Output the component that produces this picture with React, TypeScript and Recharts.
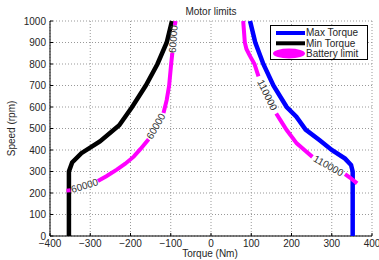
import { ScatterChart, Scatter, XAxis, YAxis, CartesianGrid, ReferenceDot } from "recharts";

const TORQUE_TICKS = [-400, -300, -200, -100, 0, 100, 200, 300, 400];
const SPEED_TICKS = [0, 100, 200, 300, 400, 500, 600, 700, 800, 900, 1000];

// torque (Nm) vs speed (rpm)
const maxTorque = [
  { t: 352, s: 0 }, { t: 352, s: 300 }, { t: 348, s: 330 }, { t: 333, s: 360 },
  { t: 300, s: 400 }, { t: 270, s: 445 }, { t: 235, s: 495 }, { t: 212, s: 555 },
  { t: 188, s: 600 }, { t: 155, s: 700 }, { t: 130, s: 800 }, { t: 110, s: 900 },
  { t: 97, s: 1000 },
];

const minTorque = [
  { t: -353, s: 0 }, { t: -353, s: 300 }, { t: -345, s: 342 }, { t: -322, s: 385 },
  { t: -276, s: 440 }, { t: -228, s: 515 }, { t: -196, s: 600 }, { t: -162, s: 700 },
  { t: -133, s: 800 }, { t: -110, s: 900 }, { t: -97, s: 1000 },
];

// battery limit contour, split where the level labels sit
const batteryLeftTop = [{ t: -88, s: 1000 }, { t: -90, s: 980 }];
const batteryLeftUpper = [
  { t: -96, s: 852 }, { t: -99, s: 800 }, { t: -104, s: 700 }, { t: -110, s: 633 }, { t: -118, s: 572 },
];
const batteryLeftLower = [
  { t: -155, s: 450 }, { t: -175, s: 405 }, { t: -192, s: 369 }, { t: -213, s: 336 },
  { t: -234, s: 309 }, { t: -260, s: 278 }, { t: -281, s: 256 },
];
const batteryLeftEnd = [{ t: -349, s: 213 }, { t: -359, s: 211 }];

const batteryRightTop = [
  { t: 80, s: 1000 }, { t: 84, s: 900 }, { t: 88, s: 870 }, { t: 96, s: 840 },
  { t: 108, s: 800 }, { t: 118, s: 742 },
];
const batteryRightMid = [
  { t: 162, s: 570 }, { t: 172, s: 540 }, { t: 188, s: 493 }, { t: 213, s: 431 },
  { t: 235, s: 395 }, { t: 252, s: 368 },
];
const batteryRightEnd = [{ t: 333, s: 288 }, { t: 345, s: 272 }, { t: 363, s: 245 }];

const batteryLabels = [
  { t: -94, s: 916, text: "60000" },
  { t: -137, s: 511, text: "60000" },
  { t: -314, s: 234, text: "60000" },
  { t: 140, s: 656, text: "110000" },
  { t: 292, s: 327, text: "110000" },
];
const LABEL_ANGLES = [-86, -60, -17, 64, 29];

const fmtTick = (v: number) => (v < 0 ? `\u2212${Math.abs(v)}` : `${v}`);

const noDot = () => <g />;

const labelShape = (text: string, angle: number) => (p: any) => (
  <text
    x={p.cx}
    y={p.cy}
    transform={`rotate(${angle} ${p.cx} ${p.cy})`}
    textAnchor="middle"
    dominantBaseline="central"
    fontSize={10}
    fill="#333"
  >
    {text}
  </text>
);

const magentaSegments = [
  batteryLeftTop, batteryLeftUpper, batteryLeftLower, batteryLeftEnd,
  batteryRightTop, batteryRightMid, batteryRightEnd,
];

export default function App() {
  return (
    <div style={{ position: "absolute", left: 0, top: 0, width: 379, height: 260, fontFamily: "Liberation Sans", background: "#fff" }}>
      <ScatterChart width={379} height={260} margin={{ top: 21, right: 7, bottom: 0, left: 0 }}>
        <CartesianGrid stroke="#999" strokeDasharray="1 2" />
        <XAxis
          type="number"
          dataKey="t"
          domain={[-400, 400]}
          ticks={TORQUE_TICKS}
          interval={0}
          height={24}
          tickFormatter={fmtTick}
          tick={{ fontSize: 10, fill: "#262626" }}
          tickSize={-3}
          tickMargin={7}
          axisLine={{ stroke: "#000" }}
          tickLine={{ stroke: "#000" }}
        />
        <YAxis
          type="number"
          dataKey="s"
          domain={[0, 1000]}
          ticks={SPEED_TICKS}
          interval={0}
          width={50}
          tick={{ fontSize: 10, fill: "#262626" }}
          tickSize={-3}
          tickMargin={7}
          axisLine={{ stroke: "#000" }}
          tickLine={{ stroke: "#000" }}
        />
        <Scatter data={maxTorque} line={{ stroke: "#0000ff", strokeWidth: 4.5 }} shape={noDot} isAnimationActive={false} legendType="none" />
        <Scatter data={minTorque} line={{ stroke: "#000000", strokeWidth: 4.5 }} shape={noDot} isAnimationActive={false} legendType="none" />
        {magentaSegments.map((seg, i) => (
          <Scatter key={i} data={seg} line={{ stroke: "#ff00ff", strokeWidth: 4 }} shape={noDot} isAnimationActive={false} legendType="none" />
        ))}
        {batteryLabels.map((l, i) => (
          <ReferenceDot key={i} x={l.t} y={l.s} r={1} shape={labelShape(l.text, LABEL_ANGLES[i])} />
        ))}
      </ScatterChart>
      <svg width={379} height={260} style={{ position: "absolute", left: 0, top: 0, pointerEvents: "none" }}>
        <text x={211} y={15} textAnchor="middle" fontSize={10} fill="#262626">Motor limits</text>
        <text x={210} y={257} textAnchor="middle" fontSize={10} fill="#262626">Torque (Nm)</text>
        <text x={15} y={128.5} textAnchor="middle" fontSize={10} fill="#262626" transform="rotate(-90 15 128.5)">Speed (rpm)</text>
        <rect x={270.5} y={25.5} width={97} height={34} fill="#fff" stroke="#000" strokeWidth={1} />
        <line x1={276} x2={305} y1={33} y2={33} stroke="#0000ff" strokeWidth={4} />
        <line x1={276} x2={305} y1={43.3} y2={43.3} stroke="#000" strokeWidth={4} />
        <ellipse cx={289} cy={53.5} rx={16} ry={5} fill="#ff00ff" />
        <text x={306} y={36} fontSize={10} fill="#262626">Max Torque</text>
        <text x={306} y={46.5} fontSize={10} fill="#262626">Min Torque</text>
        <text x={306} y={57} fontSize={10} fill="#262626">Battery limit</text>
      </svg>
    </div>
  );
}
